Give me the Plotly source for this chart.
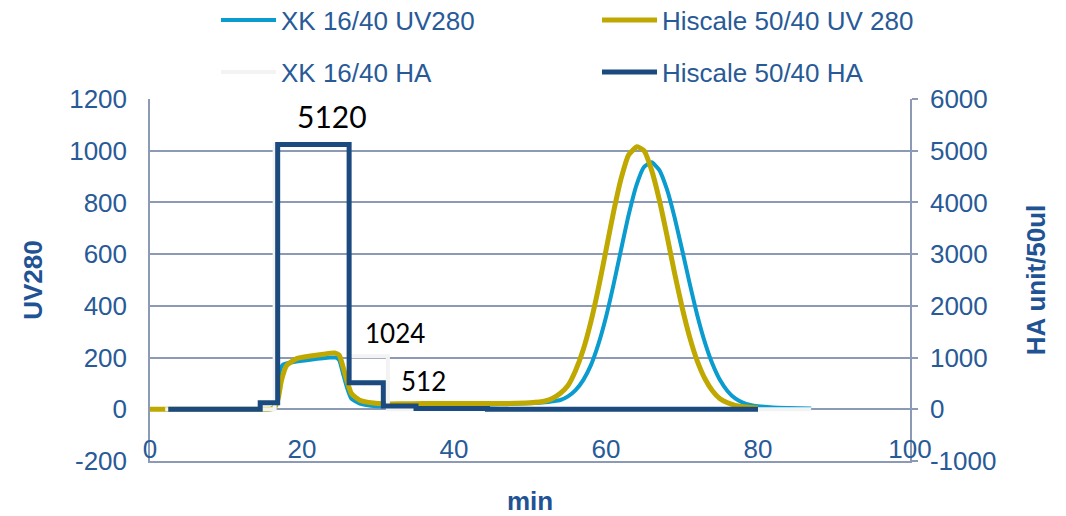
import plotly.graph_objects as go

# ---------------- data ----------------
xk_uv_t = [2, 14, 16.0, 16.6, 17.0, 17.5, 18.9, 21.1, 23.7, 24.5, 24.9, 25.4, 25.9, 26.5, 27.6, 29.8,
           33, 40, 44, 46, 48, 50, 52, 53, 54, 55, 56, 57, 58, 59, 60, 61, 62, 63, 64, 65, 66,
           67, 68, 69, 70, 71, 72, 73, 74, 75, 76, 77, 78, 79, 80, 82, 84, 87]
xk_uv = [0, 0, 1, 22, 138, 173, 183, 192, 200, 200, 190, 138, 86, 41, 22, 12,
         13, 15, 18, 19, 21, 23, 27, 31, 36, 50, 74, 113, 170, 252, 357, 483, 620, 754, 866, 937, 955,
         926, 852, 745, 619, 488, 365, 260, 176, 113, 70, 42, 26, 17, 12, 7, 5, 3]

hs_uv_t = [0, 14, 16.0, 16.5, 16.9, 17.3, 18.0, 19.3, 21.1, 22.8, 24.3, 24.9, 25.4, 25.9, 26.5, 27.6,
           29.4, 30.7, 33, 36, 40, 44, 46, 48, 50, 52, 53, 54, 55, 56, 57, 58, 59, 60, 61, 62, 63,
           64.1, 65, 66, 67, 68, 69, 70, 71, 72, 73, 74, 75, 76, 77, 78, 79, 80]
hs_uv = [0, 0, 2, 12, 46, 112, 170, 196, 206, 213, 218, 209, 164, 112, 61, 35,
         24, 21, 21, 22, 22, 22, 22, 23, 25, 32, 43, 62, 92, 150, 230, 337, 468, 615, 764, 894, 985,
         1015, 1000, 925, 812, 675, 530, 396, 280, 187, 119, 72, 41, 25, 15, 10, 7, 5]

xk_ha_t = [2, 16.4, 26.2, 31.3, 87]
xk_ha = [0, 5120, 1024, 0, 0]

hs_ha_t = [2.4, 14.5, 16.8, 26.2, 30.7, 35.0, 44.4, 80]
hs_ha = [0, 128, 5120, 512, 64, 16, 0, 0]

x_ticks = [0, 20, 40, 60, 80, 100]
y1_ticks = [-200, 0, 200, 400, 600, 800, 1000, 1200]
y2_ticks = [-1000, 0, 1000, 2000, 3000, 4000, 5000, 6000]
label_texts = ["5120", "1024", "512"]

# ---------------- styles ----------------
C_BLUE = "#0a9bcf"
C_GOLD = "#bfa800"
C_WHITE = "#f3f3f3"
C_NAVY = "#1b4a7e"
C_GRID = "#8d9ab6"
C_TICK = "#285a97"
C_TITLE = "#1f5394"
FONT = "Liberation Sans, Arial, sans-serif"

fig = go.Figure()
fig.add_trace(go.Scatter(x=xk_ha_t, y=xk_ha, name="XK 16/40 HA", yaxis="y2", mode="lines",
                         line=dict(color=C_WHITE, width=4, shape="hv"), legend="legend2", legendrank=3))
fig.add_trace(go.Scatter(x=xk_uv_t, y=xk_uv, name="XK 16/40 UV280", mode="lines",
                         line=dict(color=C_BLUE, width=4, shape="spline", smoothing=0.5),
                         legend="legend", legendrank=1))
fig.add_trace(go.Scatter(x=hs_uv_t, y=hs_uv, name="Hiscale 50/40 UV 280", mode="lines",
                         line=dict(color=C_GOLD, width=5, shape="spline", smoothing=0.5),
                         legend="legend", legendrank=2))
fig.add_trace(go.Scatter(x=hs_ha_t, y=hs_ha, name="Hiscale 50/40 HA", yaxis="y2", mode="lines",
                         line=dict(color=C_NAVY, width=5, shape="hv"), legend="legend2", legendrank=4))

ann_pos = [(23.9, 5671, 30), (32.2, 1481, 26), (36.0, 546, 26)]
for txt, (ax_, ay_, fs) in zip(label_texts, ann_pos):
    fig.add_annotation(x=ax_, y=ay_, xref="x", yref="y2", text=txt, showarrow=False,
                       font=dict(family="Lato, sans-serif", size=fs, color="black"))

legend_common = dict(orientation="h", font=dict(family=FONT, size=26, color=C_TICK),
                     bgcolor="rgba(0,0,0,0)", entrywidth=311, entrywidthmode="pixels",
                     xanchor="left", yanchor="middle", itemwidth=55,
                     xref="container", yref="container")

fig.update_layout(
    width=1066, height=516,
    margin=dict(l=150, r=156, t=99, b=55, autoexpand=False),
    paper_bgcolor="white", plot_bgcolor="white",
    font=dict(family=FONT, size=26, color=C_TICK),
    showlegend=True,
    legend=dict(x=216 / 1066, y=1 - 20 / 516, **legend_common),
    legend2=dict(x=216 / 1066, y=1 - 72 / 516, **legend_common),
    xaxis=dict(range=[0, 100], tickvals=x_ticks, showgrid=False, zeroline=False,
               showline=True, linecolor=C_GRID, linewidth=1.5,
               ticks="", automargin=False, ticklabelstandoff=-36,
               tickfont=dict(family=FONT, size=26, color=C_TICK),
               title=dict(text="min", standoff=34,
                          font=dict(family=FONT, size=26, color=C_TITLE, weight="bold"))),
    yaxis=dict(range=[-200, 1200], tickvals=y1_ticks, ticktext=[str(v) for v in y1_ticks],
               showgrid=True, gridcolor=C_GRID, gridwidth=1.5, automargin=False,
               zeroline=False, showline=True, linecolor=C_GRID, linewidth=1.5, ticks="",
               ticklabelstandoff=16,
               tickfont=dict(family=FONT, size=26, color=C_TICK),
               title=dict(text="UV280", standoff=19,
                          font=dict(family=FONT, size=26, color=C_TITLE, weight="bold"))),
    yaxis2=dict(range=[-1000, 6000], tickvals=y2_ticks, ticktext=[str(v) for v in y2_ticks],
                overlaying="y", side="right", automargin=False,
                showgrid=False, zeroline=False, showline=True, linecolor=C_GRID, linewidth=1.5,
                ticks="outside", ticklen=6, tickcolor=C_GRID, tickwidth=1.5, ticklabelstandoff=7,
                tickfont=dict(family=FONT, size=26, color=C_TICK),
                title=dict(text="HA unit/50ul", standoff=31,
                           font=dict(family=FONT, size=26, color=C_TITLE, weight="bold"))),
)

fig.write_html("out.html", config={"displayModeBar": False},
               post_script="document.body.style.margin='0';")
